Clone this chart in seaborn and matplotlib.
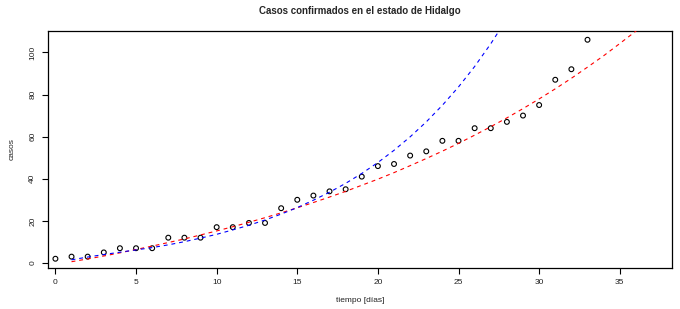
import numpy as np
import pandas as pd
import matplotlib
matplotlib.use("Agg")
import matplotlib.pyplot as plt
import seaborn as sns

# ---- data ----
dias = list(range(0, 34))
casos = [2, 3, 3, 5, 7, 7, 7, 12, 12, 12, 17, 17, 19, 19, 26, 30, 32, 34, 35, 41,
         46, 47, 51, 53, 58, 58, 64, 64, 67, 70, 75, 87, 92, 106]

# blue dashed fitted curve (read at integer days)
t_azul = list(range(1, 29))
y_azul = [1.5, 2.8, 4.0, 5.1, 6.2, 7.3, 8.6, 10.1, 11.8, 13.6, 15.7, 17.9, 20.4,
          23.2, 26.3, 29.8, 33.6, 37.8, 42.5, 47.7, 53.5, 59.9, 67.0, 74.9, 83.6,
          93.3, 104.1, 116.0]

# red dashed fitted curve (read at integer days)
t_rojo = list(range(1, 38))
y_rojo = [0.6, 1.9, 3.3, 4.8, 6.4, 8.0, 9.7, 11.4, 13.3, 15.2, 17.2, 19.3, 21.5,
          23.8, 26.2, 28.7, 31.3, 34.0, 36.9, 39.8, 42.9, 46.2, 49.6, 53.1, 56.8,
          60.7, 64.7, 68.9, 73.3, 77.9, 82.7, 87.7, 93.0, 98.4, 104.2, 110.1, 116.4]

xticks = [0, 5, 10, 15, 20, 25, 30, 35]
yticks = [0, 20, 40, 60, 80, 100]

titulo = "Casos confirmados en el estado de Hidalgo"
xlab = "tiempo [días]"
ylab = "casos"

# ---- plotting ----
sns.set_theme(style="white")
plt.rcParams['font.family'] = ['Liberation Sans', 'DejaVu Sans']
plt.rcParams['xtick.major.size'] = 4.5
plt.rcParams['ytick.major.size'] = 4.5

fig = plt.figure(figsize=(6.8, 3.09), dpi=100)
ax = fig.add_axes([48 / 680, 1 - 267.5 / 309, (672 - 48) / 680, (267.5 - 31) / 309])

df_pts = pd.DataFrame({"dias": dias, "casos": casos})
df_az = pd.DataFrame({"t": t_azul, "y": y_azul})
df_ro = pd.DataFrame({"t": t_rojo, "y": y_rojo})

sns.scatterplot(data=df_pts, x="dias", y="casos", ax=ax, marker="o", s=12,
                facecolor="none", edgecolor="black", linewidth=0.8, zorder=2)
sns.lineplot(data=df_ro, x="t", y="y", ax=ax, color="#ff0000", linewidth=0.8,
             dashes=False, zorder=3)
sns.lineplot(data=df_az, x="t", y="y", ax=ax, color="#0000ff", linewidth=0.8,
             dashes=False, zorder=3)
for ln in ax.get_lines():
    ln.set_dashes((3.5, 3.5))

ax.set_xlim(-0.46, 38.24)
ax.set_ylim(-2.16, 110.16)
ax.set_xticks(xticks)
ax.set_yticks(yticks)
ax.set_xticklabels([str(v) for v in xticks], fontsize=6)
ax.set_yticklabels([str(v) for v in yticks], fontsize=6, rotation=90, va="center")
ax.tick_params(axis="both", which="major", direction="out", length=4.5, width=0.8,
               color="black", bottom=True, left=True, top=False, right=False,
               pad=4, labelcolor="#222222")
ax.tick_params(axis="y", pad=4)
for sp in ax.spines.values():
    sp.set_visible(True)
    sp.set_color("black")
    sp.set_linewidth(0.9)

ax.set_xlabel(xlab, fontsize=6, labelpad=8, color="#222222")
ax.set_ylabel(ylab, fontsize=6, labelpad=10, color="#222222")
ax.set_title(titulo, fontsize=7, fontweight="bold", pad=12)
ax.grid(False)

fig.savefig("out.png", dpi=100)
